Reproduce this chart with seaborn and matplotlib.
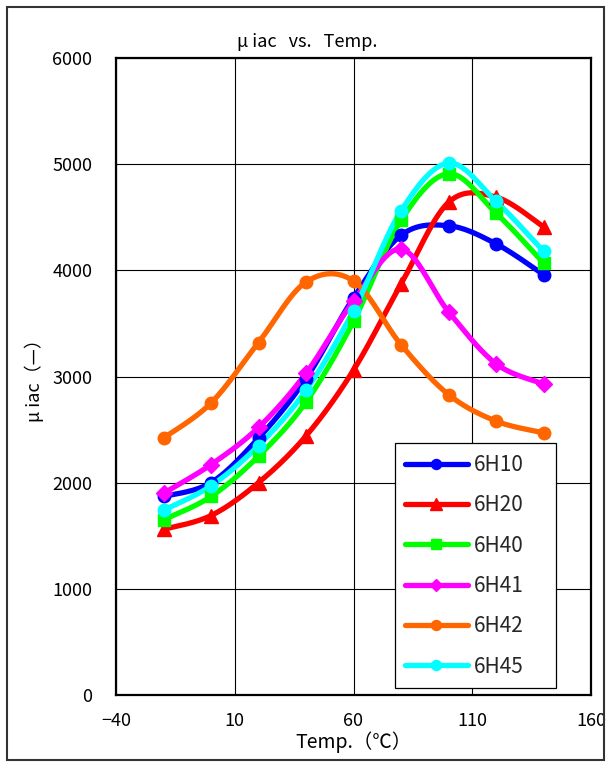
import numpy as np
import pandas as pd
import matplotlib
matplotlib.use("Agg")
import matplotlib.pyplot as plt
from matplotlib.lines import Line2D
from matplotlib.patches import Rectangle
import seaborn as sns

# ---- data ----
temps = [-20, 0, 20, 40, 60, 80, 100, 120, 140]
s_6H10 = [1870, 2000, 2420, 2980, 3740, 4330, 4420, 4250, 3960]
s_6H20 = [1560, 1690, 2000, 2440, 3060, 3870, 4640, 4690, 4410]
s_6H40 = [1650, 1870, 2250, 2760, 3520, 4470, 4910, 4540, 4070]
s_6H41 = [1900, 2170, 2520, 3030, 3710, 4200, 3610, 3120, 2930]
s_6H42 = [2420, 2750, 3320, 3890, 3900, 3300, 2830, 2580, 2470]
s_6H45 = [1740, 1970, 2350, 2870, 3620, 4560, 5010, 4650, 4180]

series_names = ["6H10", "6H20", "6H40", "6H41", "6H42", "6H45"]
series_values = [s_6H10, s_6H20, s_6H40, s_6H41, s_6H42, s_6H45]
colors = ["#0000FF", "#FF0000", "#00FF00", "#FF00FF", "#FF6600", "#00FFFF"]
markers = ["o", "^", "s", "D", "o", "o"]
msizes = [9, 10, 8.5, 8, 9, 9]

x_ticks = [-40, 10, 60, 110, 160]
y_ticks = [0, 1000, 2000, 3000, 4000, 5000, 6000]

sns.set_theme(style="white")
plt.rcParams["font.family"] = ["Noto Sans CJK JP", "DejaVu Sans"]


def smooth(xs, ys, n=30):
    """Excel-style smoothed line (Catmull-Rom Bezier through the points)."""
    xs = np.asarray(xs, float)
    ys = np.asarray(ys, float)
    P = np.column_stack([xs, ys])
    out = []
    for i in range(len(P) - 1):
        p0 = P[i - 1] if i > 0 else P[i]
        p1, p2 = P[i], P[i + 1]
        p3 = P[i + 2] if i + 2 < len(P) else P[i + 1]
        c1 = p1 + (p2 - p0) / 6.0
        c2 = p2 - (p3 - p1) / 6.0
        t = np.linspace(0, 1, n)[:, None]
        seg = ((1 - t) ** 3) * p1 + 3 * ((1 - t) ** 2) * t * c1 + 3 * (1 - t) * t ** 2 * c2 + t ** 3 * p2
        out.append(seg if i == 0 else seg[1:])
    out = np.vstack(out)
    return out[:, 0], out[:, 1]


fig = plt.figure(figsize=(6.08, 7.65), dpi=100)
ax = fig.add_axes([116 / 608, 1 - 695 / 765, (591 - 116) / 608, (695 - 58) / 765])

handles = []
for name, vals, c, m, ms in zip(series_names, series_values, colors, markers, msizes):
    sx, sy = smooth(temps, vals)
    curve = pd.DataFrame({"x": sx, "y": sy})
    sns.lineplot(data=curve, x="x", y="y", ax=ax, color=c, linewidth=3.8,
                 sort=False, estimator=None, legend=False, zorder=3)
    pts = pd.DataFrame({"x": temps, "y": vals})
    ax.plot(pts["x"], pts["y"], linestyle="none", marker=m, markersize=ms,
            color=c, markeredgecolor=c, zorder=4)
    handles.append(Line2D([], [], color=c, linewidth=3.8, marker=m,
                          markersize=ms * 0.8, markeredgecolor=c, label=name))

ax.set_xlim(-40, 160)
ax.set_ylim(0, 6000)
ax.set_xticks(x_ticks)
ax.set_xticklabels([f"{v}".replace("-", "\u2212") for v in x_ticks])
ax.set_yticks(y_ticks)
ax.grid(True, color="black", linewidth=0.8)
ax.set_axisbelow(True)
for sp in ax.spines.values():
    sp.set_color("black")
    sp.set_linewidth(1.6)
ax.tick_params(axis="y", length=0, pad=17, labelsize=13, colors="black")
ax.tick_params(axis="x", length=0, pad=12, labelsize=13, colors="black")
ax.set_xlabel("Temp.（℃）", fontsize=14, color="black", labelpad=1)
ax.set_ylabel("μ iac（—）", fontsize=13, color="black", labelpad=6)

fig.text(307 / 608, 1 - 42 / 765, "μ iac   vs.   Temp.", ha="center", va="center",
         fontsize=13, color="black")

leg = ax.legend(handles=handles, loc="lower left",
                bbox_to_anchor=(0.587, 0.011, 0.339, 0.383), mode="expand",
                fontsize=15, frameon=True, fancybox=False, framealpha=1,
                edgecolor="black", handlelength=3.0, handletextpad=0.3,
                labelspacing=0.88, borderpad=0.5, borderaxespad=0)
leg.get_frame().set_linewidth(0.9)
leg.set_zorder(10)

fig.add_artist(Rectangle((7 / 608, 1 - 760 / 765), (604 - 7) / 608, (760 - 7) / 765,
                         transform=fig.transFigure, fill=False,
                         edgecolor="#333333", linewidth=1.5))

fig.savefig("out.png", dpi=100)
